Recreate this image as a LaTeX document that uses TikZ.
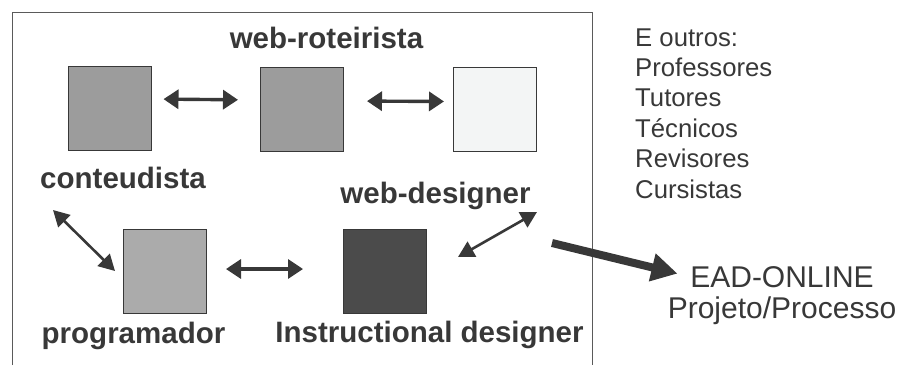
\documentclass[tikz,border=0pt]{standalone}
\usepackage{fontspec}
\setmainfont{Liberation Sans}
\usetikzlibrary{arrows.meta}
\definecolor{InkGrey}{HTML}{383838}
\definecolor{FrameGrey}{HTML}{5A5A5A}
\definecolor{MidGrey}{HTML}{9C9C9C}
\definecolor{LightGrey}{HTML}{ABABAB}
\definecolor{PaleGrey}{HTML}{F3F5F5}
\definecolor{DarkGrey}{HTML}{4B4B4B}

\tikzset{
  rolebox/.style={draw=InkGrey, line width=1pt, minimum width=83pt, minimum height=84pt, inner sep=0pt},
  rolename/.style={text=InkGrey, inner sep=0pt, anchor=base, font=\fontsize{29.5}{34}\selectfont\bfseries},
  others/.style={text=InkGrey, inner sep=0pt, anchor=base west, font=\fontsize{25.7}{30}\selectfont},
  result/.style={text=InkGrey, inner sep=0pt, anchor=base, font=\fontsize{30}{34}\selectfont},
  link/.style={draw=InkGrey, line width=3.4pt, {Triangle[length=15pt,width=19pt]}-{Triangle[length=15pt,width=19pt]}},
  slant/.style={draw=InkGrey, line width=2.6pt, {Triangle[length=16pt,width=17pt]}-{Triangle[length=16pt,width=17pt]}}
}

\begin{document}
\begin{tikzpicture}[x=1pt,y=1pt,yscale=-1,xscale=1]
		\useasboundingbox (0,0) rectangle (904,365);

		% Open frame round the team (no bottom edge)
		\draw[FrameGrey, line width=0.9pt] (12,365) -- (12,12) -- (592,12) -- (592,365);

		% The five role squares
		\node[rolebox, fill=MidGrey] (cont) at (109.5,108) {};
		\node[rolebox, fill=MidGrey] (rot) at (302,109) {};
		\node[rolebox, fill=PaleGrey] (dsg) at (495,109.5) {};
		\node[rolebox, fill=LightGrey] (prog) at (165,271) {};
		\node[rolebox, fill=DarkGrey] (instr) at (385,271) {};

		% Role names
		\node[rolename] (lrot) at (326.5,48) {web-roteirista};
		\node[rolename] (lcont) at (123,188) {conteudista};
		\node[rolename] (ldsg) at (435.5,203) {web-designer};
		\node[rolename] (lprog) at (133.5,343) {programador};
		\node[rolename] (linstr) at (429.5,342) {Instructional designer};

		% Free ends of the slanted arrows
		\coordinate (cdend) at (53,210);
		\coordinate (wdend) at (537,212);
		\coordinate (idend) at (458,257);
		\coordinate (start) at (552,243);

		% Two-way links between the squares
		\draw[link, shorten <=12pt, shorten >=22pt] ([yshift=-9pt]cont.east) -- ([yshift=-9pt]rot.west);
		\draw[link, shorten <=23pt, shorten >=9pt] ([yshift=-8pt]rot.east) -- ([yshift=-8pt]dsg.west);
		\draw[link, shorten <=19pt, shorten >=40pt] ([yshift=-2pt]prog.east) -- ([yshift=-2pt]instr.west);
		\draw[slant] (cdend) -- ([xshift=-8pt]prog.west);
		\draw[slant] (idend) -- (wdend);

		% The others who take part
		\foreach \who [count=\i] in {E outros:, Professores, Tutores, Técnicos, Revisores, Cursistas}
			\node[others] (who\i) at (635,{46+30.4*(\i-1)}) {\who};

		% Outcome of the process
		\node[result] (ead) at (782,287) {EAD-ONLINE};
		\node[result] (proj) at (782,318) {Projeto/Processo};

		% Thick arrow towards the outcome
		\draw[draw=InkGrey, line width=8pt, -{Triangle[length=26pt,width=27pt]}, shorten >=13pt] (start) -- (ead.west);
	\end{tikzpicture}
\end{document}
